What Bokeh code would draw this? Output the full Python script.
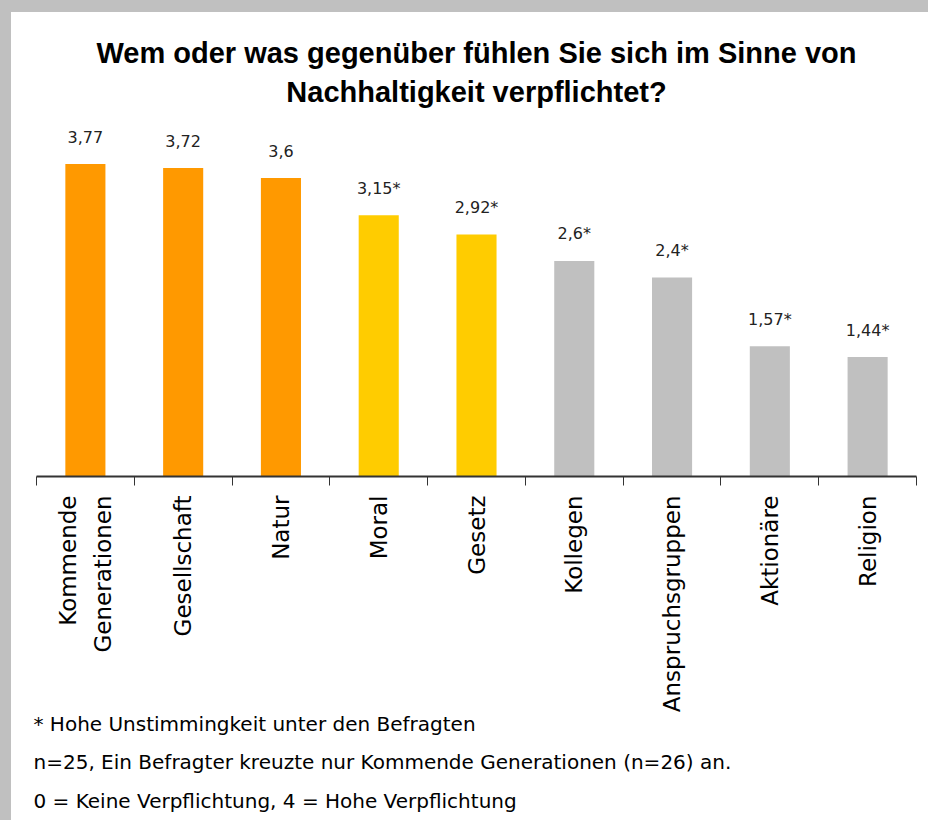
import math
from bokeh.plotting import figure
from bokeh.models import Range1d, LinearAxis, FixedTicker, Title, ColumnDataSource
from bokeh.core.properties import value
from bokeh.embed import file_html
from bokeh.resources import INLINE

# ---------------- data ----------------
categories = ["Kommende\nGenerationen", "Gesellschaft", "Natur", "Moral", "Gesetz",
              "Kollegen", "Anspruchsgruppen", "Aktionäre", "Religion"]
values = [3.77, 3.72, 3.6, 3.15, 2.92, 2.6, 2.4, 1.57, 1.44]
value_labels = ["3,77", "3,72", "3,6", "3,15*", "2,92*", "2,6*", "2,4*", "1,57*", "1,44*"]
groups = ["hoch", "hoch", "hoch", "mittel", "mittel", "niedrig", "niedrig", "niedrig", "niedrig"]
title_lines = ["Wem oder was gegenüber fühlen Sie sich im Sinne von",
               "Nachhaltigkeit verpflichtet?"]
footer_lines = ["* Hohe Unstimmingkeit unter den Befragten",
                "n=25, Ein Befragter kreuzte nur Kommende Generationen (n=26) an.",
                "0 = Keine Verpflichtung, 4 = Hohe Verpflichtung"]

# ---------------- styling ----------------
group_colors = {"hoch": "#FF9900", "mittel": "#FFCC00", "niedrig": "#C0C0C0"}
W, H = 928, 820
FRAME_LEFT, FRAME_RIGHT = 25, 905
FRAME_TOP, FRAME_BOTTOM = 95, 464
PX_PER_UNIT = 82.9
y_top = (FRAME_BOTTOM - FRAME_TOP) / PX_PER_UNIT

n = len(categories)
centers = [i + 0.5 for i in range(n)]
bounds = list(range(n + 1))

source = ColumnDataSource(dict(
    x=centers, top=values, label=value_labels,
    color=[group_colors[g] for g in groups],
))

p = figure(width=W, height=H, x_range=Range1d(0, n), y_range=Range1d(0, y_top),
           output_backend="svg", toolbar_location=None,
           x_axis_location=None, y_axis_location=None,
           min_border_left=FRAME_LEFT, min_border_right=W - FRAME_RIGHT,
           min_border_top=FRAME_TOP, min_border_bottom=H - FRAME_BOTTOM)
p.styles = {"border-top": "12px solid #c0c0c0", "border-left": "11px solid #c0c0c0"}
p.xgrid.visible = False
p.ygrid.visible = False
p.outline_line_color = None
p.background_fill_color = "white"
p.border_fill_color = "white"

p.vbar(x="x", top="top", bottom=0, width=0.41, fill_color="color",
       line_color=None, source=source)
p.text(x="x", y="top", text="label", source=source, text_align="center",
       text_baseline="alphabetic", y_offset=-27,
       text_font=value("DejaVu Sans"), text_font_size="16px", text_color="#222222")

xaxis = LinearAxis(ticker=FixedTicker(ticks=centers, minor_ticks=bounds))
xaxis.major_label_overrides = {c: lab for c, lab in zip(centers, categories)}
xaxis.major_label_orientation = math.pi / 2
xaxis.major_tick_out = 0
xaxis.major_tick_in = 0
xaxis.minor_tick_out = 9
xaxis.minor_tick_in = 0
xaxis.minor_tick_line_color = "#333333"
xaxis.minor_tick_line_width = 1
xaxis.axis_line_color = "#333333"
xaxis.axis_line_width = 2
xaxis.major_label_standoff = 10
xaxis.major_label_text_font = "DejaVu Sans"
xaxis.major_label_text_font_size = "23px"
xaxis.major_label_text_color = "#000000"
xaxis.major_label_text_line_height = 1.35
p.add_layout(xaxis, "below")

# title: later-added titles sit farther from the frame
for txt, so in zip(reversed(title_lines), [0, 10]):
    p.add_layout(Title(text=txt, align="center", standoff=so, offset=4,
                       text_font="Liberation Sans", text_font_style="bold",
                       text_font_size="29px", text_color="#000000"), "above")

for txt, so in zip(footer_lines, [-12, 37, -12]):
    p.add_layout(Title(text=txt, align="left", offset=-3, standoff=so,
                       text_font="DejaVu Sans", text_font_style="normal",
                       text_font_size="20px", text_color="#000000"), "below")

open("out.html", "w").write(file_html(p, INLINE))
